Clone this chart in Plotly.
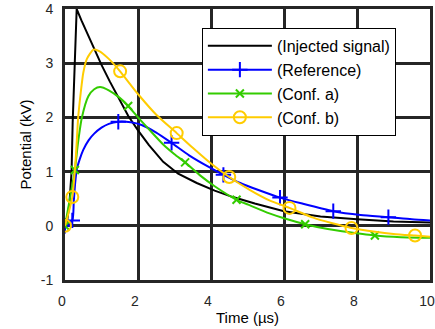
import plotly.graph_objects as go

# ---- data ----
inj_x = [0, 0.06, 0.12, 0.18, 0.21, 0.26, 0.32, 0.45, 0.6, 0.78, 1.0, 1.23, 1.5, 1.73, 2.0, 2.3, 2.69,
         3.1, 3.61, 4.1, 4.6, 5.2, 6.0, 7.0, 8.0, 9.0, 10.0]
inj_y = [0, 0.1, 0.4, 1.0, 1.9, 2.9, 4.0, 3.79, 3.56, 3.28, 2.97, 2.66, 2.31, 2.03, 1.76, 1.49, 1.18,
         0.96, 0.79, 0.65, 0.53, 0.41, 0.27, 0.17, 0.12, 0.08, 0.06]

ref_x = [0, 0.2, 0.24, 0.28, 0.32, 0.4, 0.5, 0.65, 0.8, 1.0, 1.2, 1.46, 1.8, 2.1, 2.5, 2.92, 3.4,
         3.9, 4.34, 4.8, 5.3, 5.89, 6.5, 7.35, 8.1, 8.86, 9.5, 10.0]
ref_y = [0, 0.1, 0.45, 0.8, 1.03, 1.22, 1.4, 1.58, 1.7, 1.81, 1.88, 1.92, 1.91, 1.86, 1.72, 1.53, 1.3,
         1.1, 0.94, 0.79, 0.66, 0.52, 0.41, 0.27, 0.2, 0.16, 0.12, 0.1]
ref_mx = [0, 0.2, 1.46, 2.92, 4.34, 5.89, 7.35, 8.86]
ref_my = [0, 0.1, 1.92, 1.53, 0.94, 0.52, 0.27, 0.16]

ca_x = [0, 0.27, 0.35, 0.46, 0.64, 0.8, 0.96, 1.2, 1.5, 1.73, 2.0, 2.3, 2.69, 3.0, 3.29, 3.7, 4.1,
        4.7, 5.02, 5.6, 6.0, 6.58, 7.2, 7.8, 8.49, 9.2, 10.0]
ca_y = [0, 1.03, 1.5, 1.99, 2.39, 2.52, 2.56, 2.5, 2.36, 2.21, 2.0, 1.78, 1.5, 1.32, 1.17, 0.93, 0.73,
        0.48, 0.39, 0.23, 0.14, 0.03, -0.06, -0.12, -0.18, -0.21, -0.22]
ca_mx = [0, 0.27, 1.73, 3.29, 4.7, 6.58, 8.49]
ca_my = [0, 1.03, 2.21, 1.17, 0.48, 0.03, -0.18]

cb_x = [0, 0.2, 0.3, 0.36, 0.43, 0.5, 0.6, 0.78, 0.95, 1.2, 1.51, 1.8, 2.05, 2.5, 3.06, 3.5, 4.0,
        4.5, 5.07, 5.6, 6.15, 6.8, 7.3, 7.85, 8.5, 9.0, 9.59, 10.0]
cb_y = [0, 0.53, 1.3, 1.99, 2.45, 2.82, 3.08, 3.25, 3.22, 3.08, 2.85, 2.6, 2.39, 2.05, 1.71, 1.44, 1.15,
        0.9, 0.66, 0.47, 0.33, 0.15, 0.05, -0.04, -0.11, -0.15, -0.18, -0.2]
cb_mx = [0, 0.2, 1.51, 3.06, 4.5, 6.15, 7.85, 9.59]
cb_my = [0, 0.53, 2.85, 1.71, 0.9, 0.33, -0.04, -0.18]

names = ["(Injected signal)", "(Reference)", "(Conf. a)", "(Conf. b)"]
x_ticks = [0, 2, 4, 6, 8, 10]
y_ticks = [-1, 0, 1, 2, 3, 4]

BLACK = "#000000"
BLUE = "#0000FF"
GREEN = "#33CC00"
YELLOW = "#FFCC00"

fig = go.Figure()

series = [
    (inj_x, inj_y, None, None, BLACK, None, 0, "linear"),
    (ref_x, ref_y, ref_mx, ref_my, BLUE, "cross-thin", 11, "spline"),
    (ca_x, ca_y, ca_mx, ca_my, GREEN, "x-thin", 8, "spline"),
    (cb_x, cb_y, cb_mx, cb_my, YELLOW, "circle-open", 12, "spline"),
]

for (lx, ly, mx, my, col, sym, sz, shp), nm in zip(series, names):
    line = dict(color=col, width=2, shape=shp)
    if shp == "spline":
        line["smoothing"] = 0.6
    fig.add_trace(go.Scatter(x=lx, y=ly, mode="lines", line=line, showlegend=False, hoverinfo="skip"))
    if mx is not None:
        fig.add_trace(go.Scatter(x=mx, y=my, mode="markers",
                                 marker=dict(symbol=sym, size=sz, color=col, line=dict(color=col, width=2)),
                                 showlegend=False, hoverinfo="skip"))
    # legend entry
    if sym is None:
        fig.add_trace(go.Scatter(x=[None], y=[None], mode="lines", name=nm, line=dict(color=col, width=2)))
    else:
        fig.add_trace(go.Scatter(x=[None], y=[None], mode="lines+markers", name=nm, line=dict(color=col, width=2),
                                 marker=dict(symbol=sym, size=sz, color=col, line=dict(color=col, width=2))))

FONT = "Liberation Sans, Arial"
axis_common = dict(showgrid=True, gridcolor="#262626", gridwidth=3, zeroline=False,
                   showline=True, linecolor="#262626", linewidth=3, mirror=True, ticks="",
                   tickfont=dict(family=FONT, size=14, color="#262626"))

fig.update_xaxes(range=[0, 10], tickvals=x_ticks, ticktext=[str(v) for v in x_ticks],
                 title=dict(text="Time (µs)", font=dict(family=FONT, size=15, color="#000000"), standoff=3),
                 ticklabelstandoff=6, ticklabelshift=-3, **axis_common)
fig.update_yaxes(range=[-1, 4], tickvals=y_ticks, ticktext=[str(v) for v in y_ticks],
                 title=dict(text="Potential (kV)", font=dict(family=FONT, size=15, color="#000000"), standoff=6),
                 ticklabelstandoff=6, **axis_common)

fig.update_layout(
    width=435, height=329,
    margin=dict(l=65, r=5, t=9, b=49, autoexpand=False),
    paper_bgcolor="white", plot_bgcolor="white",
    legend=dict(x=0.375, y=0.93, xanchor="left", yanchor="top",
                bgcolor="white", bordercolor="#000000", borderwidth=1,
                font=dict(family=FONT, size=16, color="#000000"),
                itemwidth=64, tracegroupgap=0),
)

# remove the browser's default 8px body margin so the figure fills the window exactly
fig.write_html("out.html", config={"displayModeBar": False},
               post_script="document.body.style.margin='0px';")
